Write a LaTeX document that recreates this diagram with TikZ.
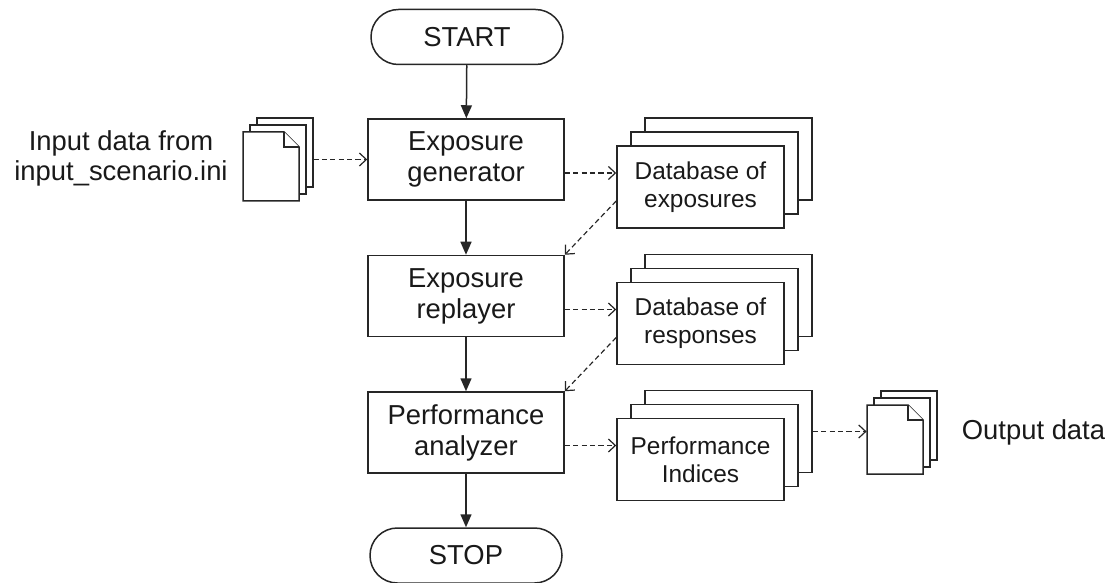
\documentclass[tikz,border=0pt]{standalone}
\usepackage{fontspec}
\setmainfont{Liberation Sans}
\usetikzlibrary{arrows.meta,shadows}

\tikzset{
  process/.style={draw=black!85, line width=0.75pt, fill=white, rectangle,
    minimum width=98pt, minimum height=40.5pt, align=center, text=black!90,
    font=\fontsize{13.7pt}{15.5pt}\selectfont},
  terminal/.style={process, minimum width=96pt, minimum height=27.5pt, rounded corners=13.7pt},
  dbbox/.style={process, minimum width=83.5pt, minimum height=41pt,
    font=\fontsize{12.2pt}{14pt}\selectfont,
    copy shadow={shadow xshift=14pt, shadow yshift=14pt, fill=white, draw=black!85},
    copy shadow={shadow xshift=7pt, shadow yshift=7pt, fill=white, draw=black!85}},
  page/.style={draw=black!85, line width=0.75pt, fill=white},
  flow/.style={draw=black!85, line width=0.75pt, -{Triangle[length=6.5pt,width=5.5pt]}},
  dataflow/.style={draw=black!85, line width=0.6pt, dash pattern=on 2.6pt off 1.6pt,
    -{Straight Barb[length=3.5pt,width=6.5pt]}},
  notetext/.style={align=center, text=black!90, font=\fontsize{13.7pt}{15pt}\selectfont}
}

% stack of pages: name, x and y of the front page's top left corner
\newcommand{\docstack}[3]{%
  \foreach \k in {2,1} \draw[page] (#2+7*\k,#3-7*\k) rectangle ++(56,69);
  \draw[page] (#2,#3) -- ++(41,0) -- ++(15,15) -- ++(0,54) -- ++(-56,0) -- cycle;
  \draw[page] (#2+41,#3) -- ++(0,15) -- ++(15,0);
  \node[inner sep=0pt, minimum width=35pt, minimum height=41.5pt] (#1) at (#2+35,#3+27.5) {};
}

\begin{document}
\begin{tikzpicture}[x=0.5pt, y=-0.5pt]
  \useasboundingbox (0,0) rectangle (1110,583);

  % main flow
  \node[terminal] (start) at (467,37) {START};
  \node[process] (gen) at (466,159.5) {Exposure\\generator};
  \node[process] (rep) at (466,296) {Exposure\\replayer};
  \node[process] (perf) at (466,432.5) {Performance\\analyzer};
  \node[terminal] (stop) at (466,555.5) {STOP};

  \draw[flow] (start) -- (gen);
  \draw[flow] (gen) -- (rep);
  \draw[flow] (rep) -- (perf);
  \draw[flow] (perf) -- (stop);

  % databases
  \node[dbbox] (dbexp) at (700.5,187) {Database of\\exposures};
  \node[dbbox] (dbres) at (700.5,323.5) {Database of\\responses};
  \node[dbbox] (idx) at (700.5,459.5) {Performance\\Indices};

  % input and output files
  \docstack{indoc}{243}{132}
  \docstack{outdoc}{867}{405}
  \node[notetext] (inlabel) at (121,158) {Input data from\\input\_scenario.ini};
  \node[notetext] (outlabel) at (1033.5,432) {Output data};

  % data connectors
  \draw[dataflow] (indoc) -- (gen);

  \coordinate (dbexpin) at ([yshift=7pt]dbexp.west);
  \draw[dataflow] (gen.east |- dbexpin) -- (dbexpin);
  \draw[dataflow] ([yshift=-7pt]dbexp.west) -- (rep.north east);

  \coordinate (dbresin) at ([yshift=7pt]dbres.west);
  \draw[dataflow] (rep.east |- dbresin) -- (dbresin);
  \draw[dataflow] ([yshift=-7pt]dbres.west) -- (perf.north east);

  \coordinate (idxin) at ([yshift=7pt]idx.west);
  \draw[dataflow] (perf.east |- idxin) -- (idxin);

  \coordinate (idxout) at ([shift={(14pt,14pt)}]idx.east);
  \draw[dataflow] (idxout) -- (idxout -| outdoc.west);
\end{tikzpicture}
\end{document}
